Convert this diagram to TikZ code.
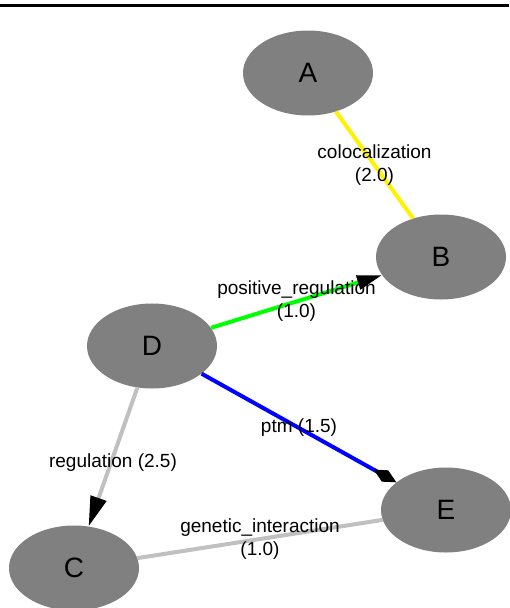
\documentclass[tikz,border=0pt]{standalone}
\usepackage{fontspec}
\setmainfont{Liberation Sans}
\usepackage{tikz}
\usetikzlibrary{shapes.geometric,arrows.meta,positioning}
\definecolor{nodegray}{RGB}{128,128,128}
\definecolor{edgegray}{RGB}{192,192,192}
\tikzstyle{gene} = [ellipse,fill=nodegray,inner sep=0pt,minimum width=130pt,minimum height=85pt,font=\fontsize{28}{34}\selectfont]
\tikzstyle{link} = [line width=4pt]
\tikzstyle{elabel} = [align=center,font=\fontsize{19}{23}\selectfont]
\tikzset{>=latex}

\begin{document}
\begin{tikzpicture}[x=1pt,y=-1pt]
    \useasboundingbox (0,0) rectangle (509,608);
    \draw [line width=3pt] (0,5.5) -- (509,5.5);

    \node [gene] (A) at (308,73) {A};
    \node [gene] (B) at (441,257) {B};
    \node [gene] (D) at (152,346) {D};
    \node [gene] (E) at (446,510) {E};
    \node [gene] (C) at (74,568) {C};

    \draw [link,yellow] (A) -- (B) node [elabel,midway,text=black] {colocalization\\(2.0)};
    \draw [link,green,-{Triangle[length=25pt,width=14pt,black]}] (D) -- (B)
      node [elabel,midway,text=black] {positive\_regulation\\(1.0)};
    \draw [link,blue,-{Diamond[length=26pt,width=13pt,black]}] (D) -- (E)
      node [elabel,midway,text=black] {ptm (1.5)};
    \draw [link,edgegray,-{Triangle[length=30pt,width=16pt,black]}] (D) -- (C)
      node [elabel,midway,yshift=-6pt,text=black] {regulation (2.5)};
    \draw [link,edgegray] (E) -- (C) node [elabel,midway,text=black] {genetic\_interaction\\(1.0)};
\end{tikzpicture}
\end{document}
